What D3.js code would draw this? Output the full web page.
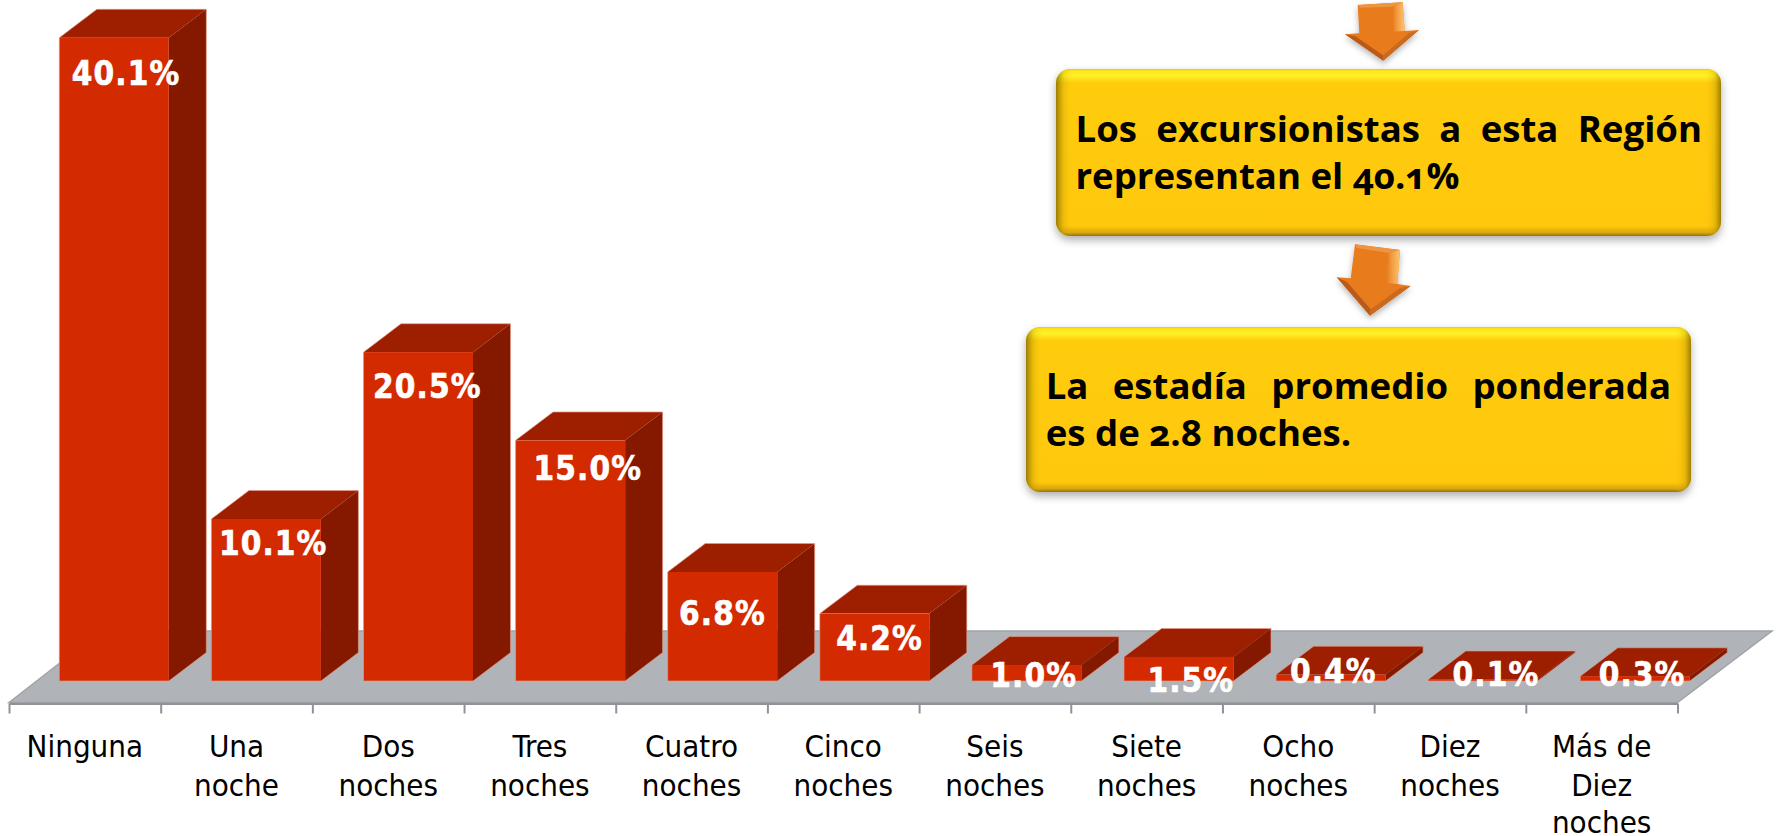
<!DOCTYPE html>
<html><head><meta charset="utf-8">
<style>html,body{margin:0;padding:0;background:#fff;overflow:hidden}svg{display:block}</style>
<script src="https://cdnjs.cloudflare.com/ajax/libs/d3/7.8.5/d3.min.js"></script></head>
<body><svg id="c" width="1778" height="836"></svg>
<script>
const categories=[["Ninguna"],["Una","noche"],["Dos","noches"],["Tres","noches"],["Cuatro","noches"],["Cinco","noches"],["Seis","noches"],["Siete","noches"],["Ocho","noches"],["Diez","noches"],["Más de","Diez","noches"]];
const values=[40.1,10.1,20.5,15.0,6.8,4.2,1.0,1.5,0.4,0.1,0.3];
const valueLabels=["40.1%","10.1%","20.5%","15.0%","6.8%","4.2%","1.0%","1.5%","0.4%","0.1%","0.3%"];
const labelShiftX=[12,7,9,17.5,0,5,7,12,2.5,13,7];
const labelShiftY=[47,36,46,40,53,36,22,35,8,7,10];
const categoryLineY=[757,796,832.5];
const callouts=[["Los excursionistas a esta Región","representan el 40.1%"],["La estadía promedio ponderada","es de 2.8 noches."]];

const svg=d3.select("#c"),W=1778,H=836;
const defs=svg.append("defs");
const baseY=681,floorFrontY=702.5,floorBackY=631,floorL=9,floorR=1677.5,depthX=37.5,depthY=28.4,barW=109.5;
const idx=d3.range(values.length);
const x=d3.scaleBand().domain(idx).range([floorL,floorR]);
const xBar=d3.scaleBand().domain(idx).range([38,1711.1]);
const y=d3.scaleLinear().domain([0,40.1]).range([baseY,37.7]);
const barLeft=i=>xBar(i)+xBar.bandwidth()/2-barW/2;
const poly=d3.line();

// floor
svg.append("path").attr("d",poly([[floorL,floorFrontY],[floorL+92,floorBackY],[floorR+94.5,floorBackY],[floorR,floorFrontY]])+"Z")
  .attr("fill","#b0b3b7").attr("stroke","#a0a3a6").attr("stroke-width",1.5);
// axis
const tickScale=d3.scaleLinear().domain([0,values.length]).range([floorL,floorR]);
const axis=svg.append("g").attr("transform",`translate(0,${floorFrontY+1})`)
  .call(d3.axisBottom(tickScale).tickValues(d3.range(values.length+1)).tickSize(10).tickSizeOuter(0).tickFormat(""));
axis.selectAll("path,line").attr("stroke","#8f9296").attr("stroke-width",2);

// bars
const bars=svg.append("g").selectAll("g").data(values).join("g");
bars.each(function(v,i){
  const g=d3.select(this),l=barLeft(i),r=l+barW,t=y(v);
  g.append("path").attr("d",poly([[l,t],[r,t],[r+depthX,t-depthY],[l+depthX,t-depthY]])+"Z").attr("fill","#9e1e00");
  g.append("path").attr("d",poly([[r,t],[r+depthX,t-depthY],[r+depthX,baseY-depthY],[r,baseY]])+"Z").attr("fill","#851900");
  g.append("rect").attr("x",l).attr("y",t).attr("width",barW).attr("height",baseY-t).attr("fill","#d42a00");
  g.append("path").attr("d",poly([[l,baseY],[l,t],[l+depthX,t-depthY],[r+depthX,t-depthY],[r+depthX,baseY-depthY],[r,baseY],[l,baseY]]))
    .attr("fill","none").attr("stroke","#e29a88").attr("stroke-width",1).attr("stroke-opacity",.65);
});
// value labels
svg.append("g").selectAll("text").data(values).join("text")
  .attr("x",(v,i)=>barLeft(i)+barW/2+labelShiftX[i]).attr("y",(v,i)=>y(v)+labelShiftY[i])
  .attr("text-anchor","middle").attr("fill","#fff").attr("stroke","#fff").attr("stroke-width",0.6)
  .style("font-family","'DejaVu Sans Condensed','DejaVu Sans'").style("font-stretch","condensed")
  .style("font-weight",700).style("font-size","33px").style("letter-spacing","1.1px").text((v,i)=>valueLabels[i]);
// category labels
const catG=svg.append("g").selectAll("text").data(categories).join("text")
  .attr("text-anchor","middle").attr("fill","#000")
  .style("font-family","'DejaVu Sans Condensed','DejaVu Sans'").style("font-stretch","condensed").style("font-size","31px");
catG.each(function(c,i){
  d3.select(this).selectAll("tspan").data(c).join("tspan")
    .attr("x",x(i)+x.bandwidth()/2).attr("y",(d,k)=>categoryLineY[k]).text(d=>d);
});

// callout styles
const vg=defs.append("linearGradient").attr("id","vb").attr("x1",0).attr("x2",0).attr("y1",0).attr("y2",1);
[[0,"#f4c400"],[.012,"#ffe81a"],[.04,"#fff02a"],[.085,"#ffcc08"],[.5,"#ffca08"],[.94,"#ffc808"],[.98,"#d9a70a"],[1,"#8f7210"]]
  .forEach(s=>vg.append("stop").attr("offset",s[0]).attr("stop-color",s[1]));
const hg=defs.append("linearGradient").attr("id","hb");
[[0,"#7a6200",.75],[.012,"#a98a00",.2],[.025,"#ffcb08",0],[.975,"#ffcb08",0],[.99,"#a98a00",.25],[1,"#7a6200",.75]]
  .forEach(s=>hg.append("stop").attr("offset",s[0]).attr("stop-color",s[1]).attr("stop-opacity",s[2]));
const fs=defs.append("filter").attr("id","sh").attr("x","-5%").attr("y","-10%").attr("width","110%").attr("height","125%");
fs.append("feDropShadow").attr("dx",0).attr("dy",4).attr("stdDeviation",4).attr("flood-color","#000").attr("flood-opacity",.32);
const fa=defs.append("filter").attr("id","sa").attr("x","-30%").attr("y","-20%").attr("width","160%").attr("height","150%");
fa.append("feDropShadow").attr("dx",0).attr("dy",3).attr("stdDeviation",3).attr("flood-color","#000").attr("flood-opacity",.3);

const boxes=[[1054,-120,646,119],[1056,69,665,167],[1026,327,665,165]];
const boxG=svg.append("g");
boxes.forEach(b=>{
  const g=boxG.append("g");
  g.append("rect").attr("x",b[0]).attr("y",b[1]).attr("width",b[2]).attr("height",b[3]).attr("rx",14).attr("fill","url(#vb)").attr("filter","url(#sh)");
  g.append("rect").attr("x",b[0]).attr("y",b[1]).attr("width",b[2]).attr("height",b[3]).attr("rx",14).attr("fill","url(#hb)");
});

// callout text (justified first line)
const textPos=[{x:1075.5,r:1702,y:[142,188.5]},{x:1045.7,r:1671,y:[399,445.5]}];
callouts.forEach((lines,k)=>{
  lines.forEach((s,j)=>{
    const t=svg.append("text").attr("x",textPos[k].x).attr("y",textPos[k].y[j]).attr("fill","#000")
      .style("font","700 36.6px 'Open Sans'").style("font-feature-settings","'onum'").text(s);
    if(j===0){
      const gaps=s.split(" ").length-1,len=t.node().getComputedTextLength();
      t.style("word-spacing",((textPos[k].r-textPos[k].x-len)/gaps)+"px");
    }
  });
});

// arrows
const arrows=[
 {tl:[1357.7,5],tr:[1402.7,2.3],sr:[1404.7,31],or:[1419,30],tip:[1383.3,60.7],ol:[1345,34.3],sl:[1359.3,33.3]},
 {tl:[1355,244.3],tr:[1400,250],sr:[1397.3,284],or:[1410.7,286],tip:[1370,315.7],ol:[1336.7,277.3],sl:[1350.7,278.3]}];
const mix=(a,b,t)=>[a[0]+(b[0]-a[0])*t,a[1]+(b[1]-a[1])*t];
arrows.forEach((a,i)=>{
  const g=svg.append("g");
  const lg=defs.append("linearGradient").attr("id","ar"+i);
  [[0,"#e67a1c"],[.5,"#f4a24a"],[1,"#fbc56e"]].forEach(s=>lg.append("stop").attr("offset",s[0]).attr("stop-color",s[1]));
  g.append("path").attr("d",poly([a.tl,a.tr,a.sr,a.or,a.tip,a.ol,a.sl])+"Z").attr("fill","#e87c1e").attr("filter","url(#sa)");
  const itr=mix(mix(a.tl,a.tr,.76),mix(a.sl,a.sr,.76),.13), isr=mix(a.sl,a.sr,.76);
  const itl=mix(mix(a.tl,a.tr,.05),mix(a.sl,a.sr,.05),.1);
  g.append("path").attr("d",poly([a.tl,a.tr,itr,itl])+"Z").attr("fill","#ef9440");
  g.append("path").attr("d",poly([a.tr,a.sr,isr,itr])+"Z").attr("fill","url(#ar"+i+")");
  const cen=[(a.ol[0]+a.or[0]+a.tip[0])/3,(a.ol[1]+a.or[1]+a.tip[1])/3];
  const il=mix(a.ol,cen,.28), ir=mix(a.or,cen,.28), it=mix(a.tip,cen,.28);
  g.append("path").attr("d",poly([a.ol,a.tip,it,il])+"Z").attr("fill","#b9591a");
  g.append("path").attr("d",poly([a.or,a.tip,it,ir])+"Z").attr("fill","#c96a20");
});
</script></body></html>
